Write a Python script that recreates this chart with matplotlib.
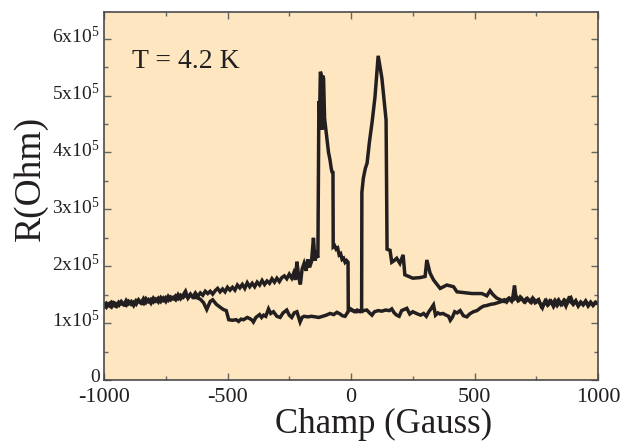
import matplotlib
matplotlib.use("Agg")
import matplotlib.pyplot as plt
import matplotlib.transforms as mtransforms
import numpy as np
from matplotlib.ticker import MultipleLocator, FuncFormatter

# ---------------- data (R in units of 1e5 Ohm) ----------------
# sweep 1: from -1000 G upward (upper left branch, left peak, low right branch)
g1 = [-1000, -990, -980, -970, -960, -950, -940, -930, -920, -910, -900, -890, -880, -870, -860,
      -850, -840, -830, -820, -810, -800, -790, -780, -770, -760, -750, -740, -730, -720, -710,
      -700, -690, -680, -670, -660, -650, -640, -630, -620, -610, -600, -590, -580, -570, -560,
      -550, -540, -530, -520, -510, -500, -490, -480, -470, -460, -450, -440, -430, -420, -410,
      -400, -390, -380, -370, -360, -350, -340, -330, -320, -310, -300, -290, -280, -270, -260,
      -250, -240, -232, -225, -219, -212, -205, -198, -190, -182, -175, -168, -160, -152, -146,
      -140, -134, -130, -127, -124, -121, -118, -115, -111, -107, -103, -97, -91, -85, -80,
      -77, -73, -72, -66, -60, -54, -48, -42, -36, -30, -24, -18, -12, -11,
      -3, 5, 15, 25, 37, 50, 64, 75, 85, 95, 110, 125, 140, 155, 165, 175, 185, 195, 205, 215,
      226, 238, 250, 260, 270, 282, 294, 305, 315, 325, 334, 342, 352, 361, 372, 385, 395, 402,
      410, 420, 430, 442, 455, 469, 480, 495, 510, 525, 537, 550, 565, 580, 595,
      610, 620, 630, 640, 650, 660, 670, 680, 690, 700, 710, 720, 730, 740, 750, 760, 770, 780,
      790, 800, 810, 820, 830, 840, 850, 860, 870, 880, 890, 900, 910, 920, 930, 940, 950, 960,
      970, 980, 990, 1000]
r1 = [1.34, 1.28, 1.34, 1.37, 1.31, 1.29, 1.37, 1.34, 1.32, 1.40, 1.34, 1.38, 1.31, 1.40, 1.38,
      1.35, 1.43, 1.36, 1.41, 1.35, 1.44, 1.39, 1.44, 1.38, 1.44, 1.38, 1.47, 1.41, 1.45, 1.41,
      1.50, 1.43, 1.49, 1.56, 1.44, 1.50, 1.46, 1.53, 1.47, 1.53, 1.49, 1.56, 1.52, 1.56, 1.51,
      1.57, 1.61, 1.55, 1.60, 1.55, 1.63, 1.58, 1.63, 1.58, 1.67, 1.62, 1.68, 1.61, 1.71, 1.64,
      1.70, 1.64, 1.72, 1.67, 1.75, 1.68, 1.74, 1.70, 1.78, 1.72, 1.79, 1.73, 1.80, 1.83, 1.78,
      1.86, 1.79, 1.88, 1.76, 2.08, 1.82, 1.68, 1.95, 2.05, 1.92, 2.12, 1.98, 2.08, 2.50, 2.10,
      2.20, 2.15, 4.90, 4.70, 5.42, 5.38, 4.40, 5.35, 5.30, 4.60, 4.45, 4.22, 4.00, 3.87, 3.72,
      3.66, 3.65, 2.34, 2.36, 2.30, 2.32, 2.20, 2.22, 2.12, 2.14, 2.07, 2.10, 2.07, 1.22,
      1.25, 1.22, 1.20, 1.23, 1.20, 1.22, 1.23, 1.18, 1.14, 1.20, 1.22, 1.21, 1.23, 1.22, 1.25,
      1.18, 1.14, 1.12, 1.22, 1.24, 1.26, 1.16, 1.20, 1.18, 1.16, 1.14, 1.17, 1.12, 1.20, 1.26,
      1.32, 1.14, 1.18, 1.16, 1.17, 1.14, 1.12, 1.05, 1.10, 1.20, 1.18, 1.22, 1.13, 1.11, 1.16,
      1.20, 1.22, 1.27, 1.30, 1.31, 1.33, 1.34, 1.36,
      1.38, 1.41, 1.37, 1.43, 1.39, 1.42, 1.46, 1.40, 1.44, 1.38, 1.43, 1.40, 1.36, 1.42, 1.37,
      1.41, 1.30, 1.34, 1.40, 1.33, 1.38, 1.29, 1.36, 1.41, 1.33, 1.39, 1.30, 1.42, 1.45, 1.34,
      1.39, 1.31, 1.37, 1.32, 1.38, 1.30, 1.36, 1.32, 1.37, 1.35]

# sweep 2: from +1000 G downward (upper right branch, right peak, low left branch)
g2 = [-1000, -990, -980, -970, -960, -950, -940, -930, -920, -910, -900, -890, -880, -870, -860,
      -850, -840, -830, -820, -810, -800, -790, -780, -770, -760, -750, -740, -730, -720, -710,
      -700, -690, -680, -670, -660, -650, -640, -625, -610, -597, -584, -570,
      -560, -545, -530, -517, -505, -495, -480, -465, -455, -445, -435, -420, -410, -400, -395,
      -385, -370, -362, -354, -345, -334, -325, -314, -300, -287, -275, -260, -250, -240, -230,
      -219, -212, -206, -198, -190, -175, -160, -145, -130, -115, -100, -85, -70, -57, -44,
      -35, -24, -12, -3, 10, 24, 36, 43, 44, 50, 58, 65, 75, 85, 97, 110, 125, 142, 146,
      158, 165, 175, 185, 198, 211, 218, 250, 279, 300, 307, 320, 334, 361, 388, 415, 429, 469,
      490, 510, 530, 550, 563, 575, 590, 600, 610, 620, 630, 640, 650, 656, 662, 668, 675, 685,
      695, 705, 715, 725, 735, 745, 755, 765, 775, 785, 795, 805, 815, 825, 835, 845, 855, 865,
      875, 885, 890, 900, 910, 920, 930, 940, 950, 960, 970, 980, 990, 1000]
r2 = [1.29, 1.35, 1.31, 1.28, 1.36, 1.34, 1.31, 1.38, 1.33, 1.31, 1.38, 1.33, 1.37, 1.33, 1.41,
      1.36, 1.34, 1.43, 1.38, 1.42, 1.37, 1.42, 1.37, 1.45, 1.40, 1.45, 1.40, 1.46, 1.43, 1.48,
      1.43, 1.49, 1.45, 1.49, 1.45, 1.51, 1.45, 1.45, 1.42, 1.36, 1.24, 1.38,
      1.41, 1.33, 1.28, 1.24, 1.22, 1.06, 1.05, 1.06, 1.03, 1.07, 1.06, 1.10, 1.08, 1.05, 1.02,
      1.10, 1.15, 1.10, 1.14, 1.12, 1.25, 1.17, 1.20, 1.12, 1.10, 1.18, 1.23, 1.14, 1.10, 1.18,
      1.20, 1.10, 1.02, 1.10, 1.12, 1.11, 1.12, 1.11, 1.10, 1.12, 1.14, 1.17, 1.15, 1.19, 1.16,
      1.13, 1.12, 1.20, 1.25, 1.22, 1.20, 1.22, 1.21, 3.30, 3.55, 3.72, 3.81, 4.20, 4.52, 4.97,
      5.70, 5.31, 4.57, 2.30, 2.28, 2.07, 2.10, 2.14, 2.05, 2.20, 1.85, 1.79, 1.80, 1.82, 2.11,
      1.88, 1.76, 1.61, 1.67, 1.64, 1.55, 1.53,
      1.52, 1.52, 1.52, 1.48, 1.57, 1.50, 1.44, 1.42, 1.40, 1.38, 1.41, 1.44, 1.39, 1.48, 1.66,
      1.45, 1.40, 1.46, 1.41, 1.37, 1.43, 1.38, 1.44, 1.36, 1.40, 1.35, 1.27, 1.38, 1.32, 1.39,
      1.34, 1.40, 1.31, 1.37, 1.33, 1.40, 1.35, 1.47, 1.37, 1.33, 1.39, 1.30, 1.36, 1.33, 1.39,
      1.32, 1.37, 1.31, 1.36, 1.34]

ytick_vals = [0, 1, 2, 3, 4, 5, 6]
scale = 1e5

# ---------------- styling ----------------
plt.rcParams['font.family'] = ['Liberation Serif', 'DejaVu Serif']
plt.rcParams['mathtext.fontset'] = 'custom'
plt.rcParams['mathtext.rm'] = 'Liberation Serif'
plt.rcParams['mathtext.it'] = 'Liberation Serif:italic'

fig = plt.figure(figsize=(6.33, 4.45), dpi=100)
ax = fig.add_axes([104/633, 1-380/445, (598-104)/633, (380-12)/445])
bg = '#FDE6C0'
ax.set_facecolor(bg)
line_col = '#231F20'

ax.plot(np.array(g1), np.array(r1)*scale, color=line_col, lw=2.5, solid_joinstyle='miter')
ax.plot(np.array(g2), np.array(r2)*scale, color=line_col, lw=2.5, solid_joinstyle='miter')

ax.set_xlim(-1000, 1000)
ax.set_ylim(0, 6.47e5)

ax.xaxis.set_major_locator(MultipleLocator(500))
ax.xaxis.set_minor_locator(MultipleLocator(250))
ax.set_yticks([v*scale for v in ytick_vals])
ax.yaxis.set_minor_locator(MultipleLocator(0.5e5))

def yfmt(v, pos):
    n = int(round(v/scale))
    if n == 0:
        return '0'
    return r'$\mathrm{%dx10^{5}}$' % n
ax.yaxis.set_major_formatter(FuncFormatter(yfmt))
ax.xaxis.set_major_formatter(FuncFormatter(lambda v, p: '%d' % v))

spine_col = '#4a4a4a'
for s in ax.spines.values():
    s.set_color(spine_col)
    s.set_linewidth(1.2)
ax.tick_params(which='both', direction='in', top=True, right=True, color='#666666', width=1.0)
ax.tick_params(which='major', length=5)
ax.tick_params(which='minor', length=3)
ax.tick_params(axis='x', labelsize=16, pad=5.5, labelcolor='#231F20')
ax.tick_params(axis='y', labelsize=14, pad=3, labelcolor='#231F20')

# nudge y tick labels slightly upward, as in the reference
shift = mtransforms.ScaledTranslation(0, 3/72, fig.dpi_scale_trans)
for lab in ax.get_yticklabels():
    lab.set_transform(lab.get_transform() + shift)

ax.text(0.057, 0.848, 'T = 4.2 K', transform=ax.transAxes, fontsize=20,
        color='#231F20', ha='left', va='baseline')

fig.text(383.5/633, 1-424/445, 'Champ (Gauss)', fontsize=25, color='#231F20',
         ha='center', va='center')
fig.text(31/633, 1-178/445, 'R(Ohm)', fontsize=27, color='#231F20',
         ha='center', va='center', rotation=90)

fig.savefig('out.png', dpi=100, facecolor='white')
